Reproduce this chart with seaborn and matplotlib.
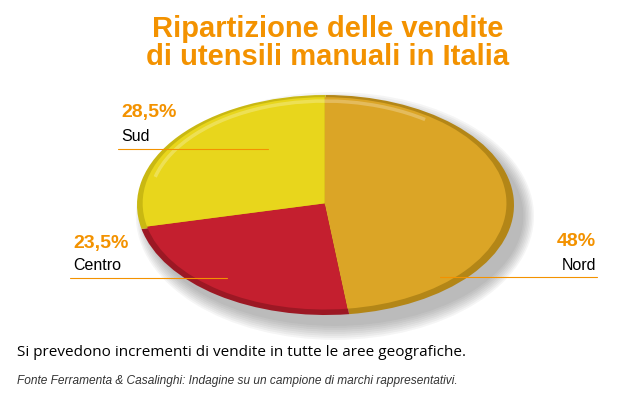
import numpy as np
import matplotlib
matplotlib.use("Agg")
import matplotlib.pyplot as plt
import seaborn as sns
from matplotlib.patches import Ellipse, Arc

# --- dati ---
aree = ["Nord", "Centro", "Sud"]
quote = [48.0, 23.5, 28.5]
colori = ["#DBA526", "#C41F2F", "#E8D61C"]
colori_bordo = ["#B38617", "#9C1824", "#C9B812"]

titolo = "Ripartizione delle vendite\ndi utensili manuali in Italia"
nota = "Si prevedono incrementi di vendite in tutte le aree geografiche."
fonte = "Fonte Ferramenta & Casalinghi: Indagine su un campione di marchi rappresentativi."

ARANCIO = "#F39200"
W, H = 640, 411


def fx(x):
    return x / W


def fy(y):
    return 1 - y / H


def fmt(v):
    if float(v).is_integer():
        return f"{int(v)}%"
    return f"{v:.1f}%".replace(".", ",")


sns.set_theme(style="white")
plt.rcParams["font.family"] = ["Liberation Sans", "DejaVu Sans"]

fig = plt.figure(figsize=(W / 100, H / 100), dpi=100)
fig.patch.set_facecolor("white")

# asse della torta (ellisse)
ax = fig.add_axes([fx(137), fy(315), fx(514) - fx(137), (315 - 95) / H])

# ombra
for i in range(8):
    sx = 1.0 + i * 0.008
    sy = 1.0 + i * 0.018
    ax.add_patch(Ellipse((0.05, -0.1), 2 * sx, 2 * sy, color="#444444",
                         alpha=0.05, lw=0, zorder=0, clip_on=False))

# bordo scuro + faccia superiore
ax.pie(quote, colors=colori_bordo, startangle=90, counterclock=False,
       radius=1.0, wedgeprops=dict(linewidth=0))
ax.pie(quote, colors=colori, startangle=90, counterclock=False,
       radius=0.965, center=(-0.005, 0.015), wedgeprops=dict(linewidth=0))
ax.add_patch(Arc((-0.005, 0.015), 1.86, 1.86, theta1=55, theta2=165,
                 color="white", alpha=0.25, lw=2.5, zorder=5))
ax.set_aspect("auto")
ax.set_xlim(-1, 1)
ax.set_ylim(-1, 1)
ax.axis("off")

# titolo
fig.text(0.5125, fy(43), titolo, ha="center", va="center", color=ARANCIO,
         fontsize=21, fontweight="bold", linespacing=1.0)

# etichette
etichette = {
    "Sud": dict(x=121, align="left", yp=112, yn=136, yl=149, l0=118, l1=268),
    "Centro": dict(x=73, align="left", yp=243, yn=266, yl=278, l0=70, l1=227),
    "Nord": dict(x=596, align="right", yp=241, yn=266, yl=277, l0=440, l1=597),
}
for area, q in zip(aree, quote):
    e = etichette[area]
    fig.text(fx(e["x"]), fy(e["yp"]), fmt(q), ha=e["align"], va="center",
             color=ARANCIO, fontsize=14, fontweight="bold")
    fig.text(fx(e["x"]), fy(e["yn"]), area, ha=e["align"], va="center",
             color="black", fontsize=11.5)
    fig.add_artist(plt.Line2D([fx(e["l0"]), fx(e["l1"])], [fy(e["yl"])] * 2,
                              color=ARANCIO, lw=0.8, transform=fig.transFigure,
                              zorder=10))

# note
fig.text(fx(17), fy(353), nota, ha="left", va="center", color="black",
         fontsize=11, family=["Open Sans", "DejaVu Sans"])
fig.text(fx(17), fy(381), fonte, ha="left", va="center", color="#333333",
         fontsize=8.6, style="italic")

fig.savefig("out.png", dpi=100, facecolor="white")
